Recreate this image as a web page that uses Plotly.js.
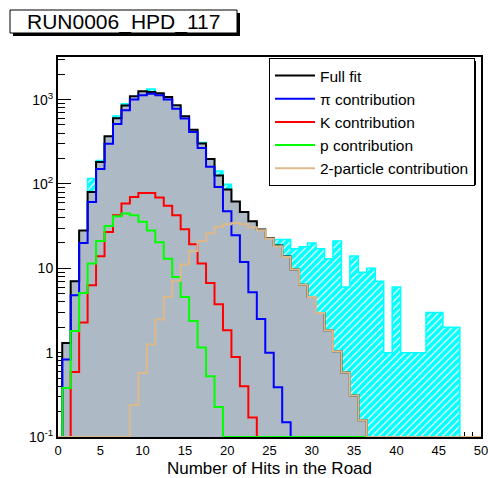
<!DOCTYPE html>
<html>
<head>
<meta charset="utf-8">
<script src="https://cdn.plot.ly/plotly-3.0.1.min.js"></script>
<style>html,body{margin:0;padding:0;background:#fff;}#chart{width:488px;height:478px;}</style>
</head>
<body>
<div id="chart"></div>
<script>
// Bin centres (bin width 1)
const binCenters = [0,1,2,3,4,5,6,7,8,9,10,11,12,13,14,15,16,17,18,19,20,21,22,23,24,25,26,27,28,29,30,31,32,33,34,35,36,37,38,39,40,41,42,43,44,45,46,47,48,49,50];

// Data histogram (cyan hatched)
const dataCounts = [0,1,7,27,116,190,360,640,894,1080,1240,1336,1170,1060,840,630,435,310,195,142,99,60,45,35,27,22,22,22,17,18,20,17,13,21,6,14,9,10,7,1,6,1,1,1,3,3,2,2,0,0,0];
// Full fit
const fullFit = [0,1.3,7,28,80,182,367,600,850,1095,1254,1230,1190,1074,856,636,440,302,198,126,86,62,46.5,36,28.8,22.9,18.6,13.8,9.7,6.4,4.57,2.95,1.84,1.04,0.58,0.31,0.158,0,0,0,0,0,0,0,0,0,0,0,0,0,0];
// pi contribution
const piContrib = [0,0.83,4.8,20,61,150,300,512,747,1000,1125,1176,1125,1000,781,595,413,267,160,92,47.4,24.6,11.9,5.2,2.5,1.0,0.39,0.15,0,0,0,0,0,0,0,0,0,0,0,0,0,0,0,0,0,0,0,0,0,0,0];
// K contribution
const kContrib = [0,0,0.59,2.27,6.3,13.9,27,42.5,58.5,70,78,78,69,55,42.5,29,19.3,11.4,6.7,3.74,1.84,0.89,0.40,0.17,0,0,0,0,0,0,0,0,0,0,0,0,0,0,0,0,0,0,0,0,0,0,0,0,0,0,0];
// p contribution
const pContrib = [0,0.38,1.8,5.1,11.4,21.1,31.8,41.4,44.6,42.5,35.7,28,20.3,13,7.9,4.57,2.37,1.15,0.525,0.227,0,0,0,0,0,0,0,0,0,0,0,0,0,0,0,0,0,0,0,0,0,0,0,0,0,0,0,0,0,0,0];
// 2-particle contribution
const twoContrib = [0,0,0,0,0,0,0,0,0,0.24,0.574,1.25,2.47,4.57,7.1,11.1,16.0,21.1,26,31,33.2,34.5,33.2,30.6,28.2,22.5,18.2,13.6,9.7,6.4,4.57,2.95,1.84,1.04,0.58,0.31,0.158,0,0,0,0,0,0,0,0,0,0,0,0,0,0];

const seriesNames = ['Full fit', 'π contribution', 'K contribution', 'p contribution', '2-particle contribution'];
const xTickVals = [0, 5, 10, 15, 20, 25, 30, 35, 40, 45, 50];
const xTickText = ['0', '5', '10', '15', '20', '25', '30', '35', '40', '45', '50'];
const yTickVals = [0.1, 1, 10, 100, 1000];
const yTickText = ['10<sup>-1</sup>', '1', '10', '10<sup>2</sup>', '10<sup>3</sup>'];
const xTitle = 'Number of Hits in the Road';
const plotTitle = 'RUN0006_HPD_117';

// ROOT draws empty bins at the bottom of a log frame
const Y_FLOOR = 0.1;
function stepXY(vals) {
  const xs = [], ys = [];
  vals.forEach((v, i) => { xs.push(binCenters[i] - 0.5); ys.push(v > 0 ? v : Y_FLOOR); });
  xs.push(binCenters[binCenters.length - 1] + 0.5);
  ys.push(ys[ys.length - 1]);
  return {x: xs, y: ys};
}

const W = 488, H = 478;
const M = {l: 58, r: 7, t: 57, b: 41};
const PW = W - M.l - M.r, PH = H - M.t - M.b;
const px = v => (v - M.l) / PW;
const py = v => (H - M.b - v) / PH;

const d = stepXY(dataCounts);
const f = stepXY(fullFit);
const traces = [
  {x: d.x, y: d.y, type: 'scatter', mode: 'lines', line: {shape: 'hv', color: '#00ffff', width: 1.5},
   fill: 'tozeroy', fillcolor: '#00ffff',
   fillpattern: {shape: '/', bgcolor: '#00ffff', fgcolor: '#ffffff', size: 5, solidity: 0.25, fillmode: 'replace'},
   showlegend: false, hoverinfo: 'skip'},
  {x: f.x, y: f.y, type: 'scatter', mode: 'lines', line: {shape: 'hv', width: 0, color: 'rgba(0,0,0,0)'},
   fill: 'tozeroy', fillcolor: '#adbac6', showlegend: false, hoverinfo: 'skip'}
];
const lineSeries = [fullFit, piContrib, kContrib, pContrib, twoContrib];
const lineColors = ['#000000', '#0000ff', '#ff0000', '#00ff00', '#ddb98a'];
lineSeries.forEach((vals, i) => {
  const s = stepXY(vals);
  traces.push({x: s.x, y: s.y, type: 'scatter', mode: 'lines', name: seriesNames[i],
    legendgroup: 'g' + i, line: {shape: 'hv', color: lineColors[i], width: 2}});
});

const minorY = [];
[0.1, 1, 10, 100, 1000].forEach(dec => { for (let k = 2; k <= 9; k++) minorY.push(dec * k); });

const layout = {
  width: W, height: H,
  margin: M,
  paper_bgcolor: '#ffffff', plot_bgcolor: '#ffffff',
  font: {family: 'Liberation Sans, Arial, sans-serif', color: '#000000'},
  showlegend: true,
  xaxis: {
    range: [0, 50], tickmode: 'array', tickvals: xTickVals, ticktext: xTickText,
    ticks: 'inside', ticklen: 10, tickwidth: 1, tickcolor: '#000', ticklabeloverflow: 'allow',
    showline: true, linecolor: '#000', linewidth: 2, mirror: true, showgrid: false, zeroline: false,
    tickfont: {size: 13}, layer: 'below traces',
    minor: {dtick: 1, ticks: 'inside', ticklen: 5, tickcolor: '#000', tickwidth: 1},
    title: {text: xTitle, font: {size: 17}, standoff: 9}
  },
  yaxis: {
    type: 'log', range: [-1, 3.505], tickmode: 'array', tickvals: yTickVals, ticktext: yTickText,
    ticks: 'inside', ticklen: 13, tickwidth: 1, tickcolor: '#000',
    showline: true, linecolor: '#000', linewidth: 2, mirror: true, showgrid: false, zeroline: false,
    tickfont: {size: 14}, layer: 'below traces',
    minor: {tickmode: 'array', tickvals: minorY, ticks: 'inside', ticklen: 7, tickcolor: '#000', tickwidth: 1}
  },
  legend: {
    x: px(269), y: py(58), xanchor: 'left', yanchor: 'top',
    bgcolor: '#ffffff', bordercolor: '#000000', borderwidth: 1,
    font: {size: 15.5}, traceorder: 'grouped', tracegroupgap: 0, itemwidth: 40
  },
  shapes: [
    {type: 'rect', xref: 'paper', yref: 'paper', x0: px(272), x1: px(476), y0: py(61), y1: py(185),
     fillcolor: '#000', line: {width: 0}, layer: 'above'},
    {type: 'rect', xref: 'paper', yref: 'paper', x0: px(13), x1: px(240), y0: py(13), y1: py(36),
     fillcolor: '#000', line: {width: 0}, layer: 'above'},
    {type: 'rect', xref: 'paper', yref: 'paper', x0: px(10), x1: px(237), y0: py(10), y1: py(33),
     fillcolor: '#fff', line: {width: 1, color: '#000'}, layer: 'above'}
  ],
  annotations: [
    {text: plotTitle, xref: 'paper', yref: 'paper', x: px(123.5), y: py(22), xanchor: 'center', yanchor: 'middle',
     showarrow: false, font: {size: 21, color: '#000'}}
  ]
};

Plotly.newPlot('chart', traces, layout, {displayModeBar: false, staticPlot: true});
</script>
</body>
</html>
